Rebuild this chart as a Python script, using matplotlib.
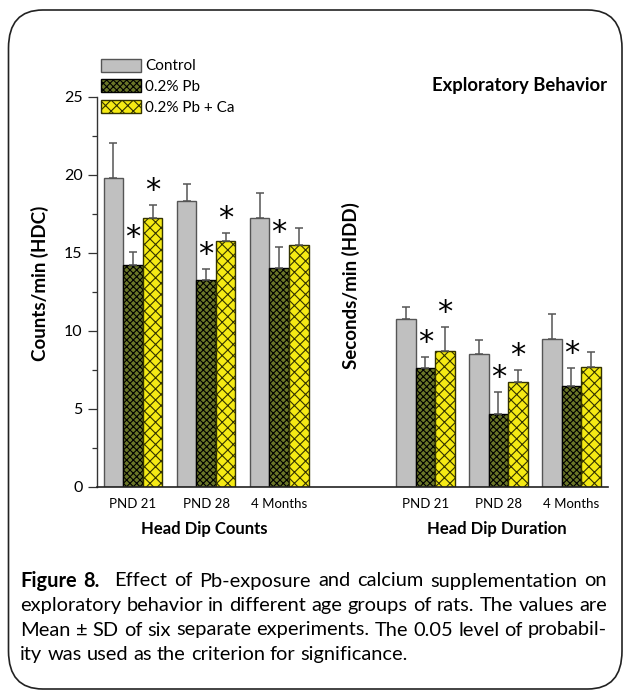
import matplotlib
matplotlib.use("Agg")
import matplotlib.pyplot as plt
import numpy as np
from matplotlib import font_manager
from matplotlib.patches import FancyBboxPatch, Patch

# ---------------- data ----------------
groups = ["PND 21", "PND 28", "4 Months"]
series = ["Control", "0.2% Pb", "0.2% Pb + Ca"]

hdc_control = [19.8, 18.3, 17.25]
hdc_control_sd = [2.25, 1.1, 1.6]
hdc_pb = [14.25, 13.25, 14.0]
hdc_pb_sd = [0.8, 0.7, 1.4]
hdc_ca = [17.25, 15.75, 15.5]
hdc_ca_sd = [0.8, 0.5, 1.1]

hdd_control = [10.75, 8.5, 9.5]
hdd_control_sd = [0.8, 0.9, 1.6]
hdd_pb = [7.6, 4.7, 6.5]
hdd_pb_sd = [0.7, 1.4, 1.1]
hdd_ca = [8.7, 6.7, 7.7]
hdd_ca_sd = [1.55, 0.8, 0.95]

hdc_pb_sig = [True, True, True]
hdc_ca_sig = [True, True, False]
hdd_pb_sig = [True, True, True]
hdd_ca_sig = [True, True, False]

# ---------------- fonts ----------------
avail = {f.name for f in font_manager.fontManager.ttflist}
def pick(*names):
    for n in names:
        if n in avail:
            return n
    return "DejaVu Sans"
MAIN = pick("Lato", "Open Sans", "Noto Sans", "DejaVu Sans")
NARROW = pick("Liberation Sans Narrow", "Lato", "DejaVu Sans")

plt.rcParams["font.family"] = [MAIN, "DejaVu Sans"]
plt.rcParams["hatch.linewidth"] = 0.8
plt.rcParams["hatch.color"] = "black"

W, H = 623, 691
DPI = 100
fig = plt.figure(figsize=(W / DPI, H / DPI), dpi=DPI)

def fx(px):
    return px / W
def fy(py):
    return 1 - py / H

# rounded frame
frame = FancyBboxPatch((fx(8.5), fy(689)), fx(622) - fx(8.5), fy(10) - fy(689),
                       boxstyle="round,pad=0,rounding_size=0.055",
                       transform=fig.transFigure, facecolor="none",
                       edgecolor="#222222", linewidth=1.2, zorder=0)
fig.patches.append(frame)

# axes
ax_l, ax_r, ax_t, ax_b = 96.5, 608, 96.7, 487
ax = fig.add_axes([fx(ax_l), fy(ax_b), fx(ax_r) - fx(ax_l), fy(ax_t) - fy(ax_b)])
ax.set_xlim(-0.5, 6.5)
ax.set_ylim(0, 25)
for s in ["top", "right"]:
    ax.spines[s].set_visible(False)
ax.spines["left"].set_color("#333333")
ax.spines["bottom"].set_color("#222222")
ax.spines["left"].set_linewidth(1.0)
ax.spines["bottom"].set_linewidth(1.2)
ax.set_yticks(np.arange(0, 26, 5))
ax.set_yticks(np.arange(2.5, 25, 5), minor=True)
ax.tick_params(axis="y", which="major", direction="out", length=6.5, width=0.9,
               color="#333333", labelsize=11.5, pad=3.5)
ax.tick_params(axis="y", which="minor", direction="out", length=3.6, width=0.9,
               color="#333333")
ax.set_xticks([])
ax.patch.set_visible(False)

bw = 0.268
offsets = [-bw, 0, bw]
styles = [
    dict(facecolor="#c0c0c0", edgecolor="#555555", hatch=None),
    dict(facecolor="#6a7628", edgecolor="black", hatch="xxxxx"),
    dict(facecolor="#f5ea14", edgecolor="#333300", hatch="xxx"),
]

def draw(base, c, csd, p, psd, a, asd, psig, asig):
    vals = [c, p, a]
    sds = [csd, psd, asd]
    xs = np.array([base, base + 1, base + 2], dtype=float)
    for i in range(3):
        st = styles[i]
        ax.bar(xs + offsets[i], vals[i], width=bw, facecolor=st["facecolor"],
               edgecolor=st["edgecolor"], hatch=st["hatch"], linewidth=1.0,
               zorder=2)
        ax.errorbar(xs + offsets[i], vals[i], yerr=[np.zeros(3), sds[i]], fmt="none",
                    ecolor="#555555", elinewidth=1.1, capsize=3.0,
                    capthick=1.1, zorder=3)
    for i, sig in ((1, psig), (2, asig)):
        for j in range(3):
            if sig[j]:
                ax.annotate("*", (xs[j] + offsets[i], vals[i][j] + sds[i][j]),
                            xytext=(0, 0), textcoords="offset points",
                            ha="center", va="bottom", fontsize=22,
                            family=["DejaVu Sans"], zorder=4)
    for j in range(3):
        ax.text(xs[j], -1.1, groups[j], ha="center", va="center",
                fontsize=9.5, family=[NARROW, "DejaVu Sans"])

draw(0, hdc_control, hdc_control_sd, hdc_pb, hdc_pb_sd, hdc_ca, hdc_ca_sd,
     hdc_pb_sig, hdc_ca_sig)
draw(4, hdd_control, hdd_control_sd, hdd_pb, hdd_pb_sd, hdd_ca, hdd_ca_sd,
     hdd_pb_sig, hdd_ca_sig)

# group titles
fig.text(fx(204), fy(529), "Head Dip Counts", ha="center", va="center",
         fontsize=12, fontweight="bold")
fig.text(fx(497), fy(529), "Head Dip Duration", ha="center", va="center",
         fontsize=12, fontweight="bold")

# y labels
fig.text(fx(40), fy(283), "Counts/min (HDC)", rotation=90, ha="center",
         va="center", fontsize=13.5, fontweight="bold")
fig.text(fx(351), fy(286), "Seconds/min (HDD)", rotation=90, ha="center",
         va="center", fontsize=13.5, fontweight="bold")

fig.text(fx(607), fy(85), "Exploratory Behavior", ha="right", va="center",
         fontsize=13.3, fontweight="bold")

# legend
handles = [Patch(facecolor=s["facecolor"], edgecolor=s["edgecolor"],
                 hatch=s["hatch"], linewidth=1.0) for s in styles]
leg = fig.legend(handles, series, loc="upper left",
                 bbox_to_anchor=(fx(101), fy(58.5)), frameon=False,
                 fontsize=11, handlelength=2.6, handleheight=0.95,
                 handletextpad=0.3, labelspacing=0.38, borderpad=0,
                 borderaxespad=0)

# caption (justified, first three lines)
cap_lines = [
    [("Figure", True), ("8.", True), ("", False), ("Effect", False), ("of", False),
     ("Pb-exposure", False), ("and", False), ("calcium", False),
     ("supplementation", False), ("on", False)],
    [(w, False) for w in "exploratory behavior in different age groups of rats. The values are".split()],
    [(w, False) for w in "Mean \u00b1 SD of six separate experiments. The 0.05 level of probabil-".split()],
    [(w, False) for w in "ity was used as the criterion for significance.".split()],
]
justify = [True, True, True, False]
cap_y = [581, 605.5, 630, 654.5]
x0, x1 = 20.0, 607.0
fig.canvas.draw()
renderer = fig.canvas.get_renderer()

def wwidth(word, bold, fs):
    if not word:
        return 0.0
    t = fig.text(0, 0, word, fontsize=fs, fontweight="bold" if bold else "normal")
    w = t.get_window_extent(renderer).width
    t.remove()
    return w

def natural(line, fs):
    sp = wwidth("a a", False, fs) - 2 * wwidth("a", False, fs)
    return sum(wwidth(w, b, fs) for w, b in line) + sp * (len(line) - 1), sp

base_fs = 12.5
nat = max(natural(cap_lines[i], base_fs)[0] for i in range(3))
cap_fs = base_fs * (x1 - x0) / nat

for line, y, just in zip(cap_lines, cap_y, justify):
    widths = [wwidth(w, b, cap_fs) for w, b in line]
    tot, sp = natural(line, cap_fs)
    gap = sp
    if just and len(line) > 1:
        gap = ((x1 - x0) - sum(widths)) / (len(line) - 1)
    x = x0
    for (w, b), wd in zip(line, widths):
        if w:
            fig.text(fx(x), fy(y), w, ha="left", va="center", fontsize=cap_fs,
                     fontweight="bold" if b else "normal")
        x += wd + gap

fig.savefig("out.png", dpi=DPI)
